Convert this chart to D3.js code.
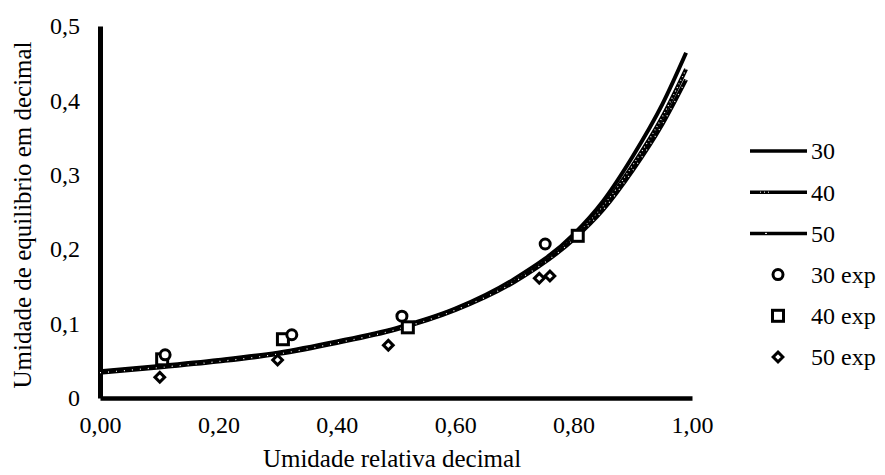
<!DOCTYPE html>
<html>
<head>
<meta charset="utf-8">
<script src="https://cdn.jsdelivr.net/npm/d3@7"></script>
<style>
  body { margin: 0; background: #fff; }
  svg text { fill: #000; }
</style>
</head>
<body>
<svg width="885" height="475"></svg>
<script>
// fitted isotherm curves
const curveX = [0, 0.1, 0.2, 0.3, 0.4, 0.5, 0.6, 0.7, 0.8, 0.85, 0.9, 0.95, 0.99];
const curve30 = [0.036, 0.043, 0.051, 0.061, 0.076, 0.094, 0.120, 0.160, 0.220, 0.265, 0.325, 0.395, 0.464];
const curve40 = [0.035, 0.042, 0.050, 0.060, 0.075, 0.093, 0.119, 0.158, 0.216, 0.258, 0.313, 0.378, 0.442];
const curve50 = [0.034, 0.041, 0.049, 0.059, 0.074, 0.092, 0.118, 0.156, 0.213, 0.253, 0.306, 0.368, 0.428];

// experimental points
const exp30X = [0.11, 0.324, 0.51, 0.752];
const exp30Y = [0.058, 0.085, 0.110, 0.207];
const exp40X = [0.105, 0.309, 0.52, 0.807];
const exp40Y = [0.052, 0.079, 0.095, 0.218];
const exp50X = [0.101, 0.30, 0.487, 0.742, 0.76];
const exp50Y = [0.028, 0.051, 0.071, 0.161, 0.164];

const xTicks = [0, 0.2, 0.4, 0.6, 0.8, 1.0];
const yTicks = [0, 0.1, 0.2, 0.3, 0.4, 0.5];

const FONT = "'Times New Roman', Times, Tinos, 'Liberation Serif', 'Noto Serif', serif";
const svg = d3.select('svg');

const x = d3.scaleLinear().domain([0, 1]).range([100, 692]);
const y = d3.scaleLinear().domain([0, 0.5]).range([398, 26]);

const fmtX = d => d3.format('.2f')(d).replace('.', ',');
const fmtY = d => d === 0 ? '0' : d3.format('.1f')(d).replace('.', ',');

// axes (no tick marks, just heavy lines and labels)
const xAxis = svg.append('g')
  .attr('transform', 'translate(0,398)')
  .call(d3.axisBottom(x).tickValues(xTicks).tickSize(0).tickPadding(18).tickFormat(fmtX));
xAxis.attr('font-family', FONT);
xAxis.select('.domain').attr('stroke', '#000').attr('stroke-width', 4.5);
xAxis.selectAll('text').style('font-size', '24px');

const yAxis = svg.append('g')
  .attr('transform', 'translate(100,0)')
  .call(d3.axisLeft(y).tickValues(yTicks).tickSize(0).tickPadding(20).tickFormat(fmtY));
yAxis.attr('font-family', FONT);
yAxis.select('.domain').attr('stroke', '#000').attr('stroke-width', 5);
yAxis.selectAll('text').style('font-size', '24px');

svg.append('text')
  .attr('x', 392).attr('y', 467)
  .attr('text-anchor', 'middle')
  .attr('font-family', FONT)
  .style('font-size', '25px')
  .text('Umidade relativa decimal');

svg.append('text')
  .attr('transform', 'translate(31,215) rotate(-90)')
  .attr('text-anchor', 'middle')
  .attr('font-family', FONT)
  .style('font-size', '25px')
  .text('Umidade de equilibrio em decimal');

// curves
const line = d3.line().x(d => x(d[0])).y(d => y(d[1])).curve(d3.curveMonotoneX);
const series = [
  {name: '30', vals: curve30, dash: null},
  {name: '40', vals: curve40, dash: '1,3'},
  {name: '50', vals: curve50, dash: '1,7'}
];

const curves = svg.append('g');
series.forEach(s => {
  const pts = curveX.map((cx, i) => [cx, s.vals[i]]);
  curves.append('path').datum(pts)
    .attr('d', line)
    .attr('fill', 'none')
    .attr('stroke', '#000')
    .attr('stroke-width', 4);
  if (s.dash) {
    curves.append('path').datum(pts)
      .attr('d', line)
      .attr('fill', 'none')
      .attr('stroke', '#fff')
      .attr('stroke-width', 1.2)
      .attr('stroke-dasharray', s.dash);
  }
});

// markers
const markers = svg.append('g');
const drawRing = (g, cx, cy) => g.append('circle')
  .attr('cx', cx).attr('cy', cy).attr('r', 5)
  .attr('fill', '#fff').attr('stroke', '#000').attr('stroke-width', 3);
const drawSquare = (g, cx, cy) => g.append('rect')
  .attr('x', cx - 5.5).attr('y', cy - 5.5).attr('width', 11).attr('height', 11)
  .attr('fill', '#fff').attr('stroke', '#000').attr('stroke-width', 3);
const drawDiamond = (g, cx, cy) => g.append('path')
  .attr('d', d3.symbol(d3.symbolDiamond2, 60)())
  .attr('transform', `translate(${cx},${cy})`)
  .attr('fill', '#fff').attr('stroke', '#000').attr('stroke-width', 3);

exp50X.forEach((v, i) => drawDiamond(markers, x(v), y(exp50Y[i])));
exp40X.forEach((v, i) => drawSquare(markers, x(v), y(exp40Y[i])));
exp30X.forEach((v, i) => drawRing(markers, x(v), y(exp30Y[i])));

// legend
const legend = svg.append('g');
const legendLabels = ['30', '40', '50', '30 exp', '40 exp', '50 exp'];
legendLabels.forEach((lab, i) => {
  const ly = 151 + i * 41.2;
  if (i < 3) {
    legend.append('line')
      .attr('x1', 750).attr('x2', 807).attr('y1', ly).attr('y2', ly)
      .attr('stroke', '#000').attr('stroke-width', 3.5);
    if (i === 1) {
      legend.append('line')
        .attr('x1', 760).attr('x2', 772).attr('y1', ly).attr('y2', ly)
        .attr('stroke', '#fff').attr('stroke-width', 1).attr('stroke-dasharray', '1,3');
    }
    if (i === 2) {
      legend.append('line')
        .attr('x1', 765).attr('x2', 767).attr('y1', ly).attr('y2', ly)
        .attr('stroke', '#fff').attr('stroke-width', 1);
    }
  } else if (i === 3) {
    drawRing(legend, 778, ly);
  } else if (i === 4) {
    drawSquare(legend, 778, ly);
  } else {
    drawDiamond(legend, 778, ly);
  }
  legend.append('text')
    .attr('x', 811).attr('y', ly).attr('dy', '0.35em')
    .attr('font-family', FONT)
    .style('font-size', '24px')
    .text(lab);
});
</script>
</body>
</html>
